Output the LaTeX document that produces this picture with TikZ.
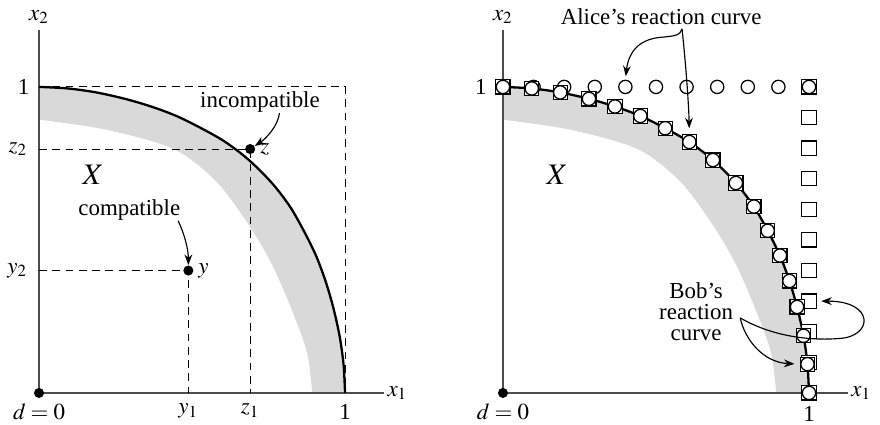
\documentclass[tikz,border=0pt]{standalone}
\usepackage{mathptmx}
\usepackage{fontspec}
\setmainfont{Liberation Serif}
\usepackage{tikz}
\usetikzlibrary{arrows.meta, positioning}
\definecolor{bandgray}{HTML}{D9D9D9}
\definecolor{axisgray}{HTML}{4D4D4D}
\tikzset{
  axis/.style={draw=axisgray, line width=0.65pt},
  guide/.style={draw=black, line width=0.45pt, dash pattern=on 3.4pt off 2.4pt},
  frontier/.style={draw=black, line width=1pt},
  band/.style={fill=bandgray, draw=none},
  dot/.style={circle, fill=black, inner sep=0pt, minimum size=4.4pt},
  omark/.style={circle, draw=black, fill=white, line width=0.55pt,
                inner sep=0pt, minimum size=5.8pt},
  smark/.style={rectangle, draw=black, fill=white, line width=0.5pt,
                inner sep=0pt, minimum size=6.2pt},
  arr/.style={-{Stealth[length=4.6pt,width=3.4pt]}, line width=0.5pt},
  lbl/.style={inner sep=1pt},
}

\begin{document}
\begin{tikzpicture}[x=4.7cm, y=4.7cm]
  \useasboundingbox (-0.1275,-0.1046) rectangle (2.748,1.284);

  % both panels: the set X, its frontier and the axes
  \foreach \ox [count=\p] in {0,1.516} {
    \begin{scope}[shift={(\ox,0)}]
      \fill[band] plot[smooth] coordinates {(0,1) (0.094,0.995) (0.187,0.982)
          (0.281,0.961) (0.366,0.936) (0.449,0.905) (0.530,0.865) (0.609,0.820)
          (0.686,0.761) (0.761,0.686) (0.820,0.609) (0.865,0.530) (0.905,0.449)
          (0.936,0.366) (0.961,0.281) (0.982,0.187) (0.995,0.094) (1,0)}
        -- plot[smooth] coordinates {(0.893,0) (0.876,0.131) (0.83,0.261)
          (0.765,0.412) (0.69,0.542) (0.58,0.69) (0.44,0.797) (0.22,0.86)
          (0,0.893)} -- cycle;
      \draw[axis] (0,1.186) -- (0,0) -- (1.126,0);
      \draw[frontier] plot[smooth] coordinates {(0,1) (0.094,0.995) (0.187,0.982)
          (0.281,0.961) (0.366,0.936) (0.449,0.905) (0.530,0.865) (0.609,0.820)
          (0.686,0.761) (0.761,0.686) (0.820,0.609) (0.865,0.530) (0.905,0.449)
          (0.936,0.366) (0.961,0.281) (0.982,0.187) (0.995,0.094) (1,0)};
      \node[dot] (orig\p) at (0,0) {};
      \node[lbl, above=1.6pt] (xtwo\p) at (0,1.186) {$x_2$};
      \node[lbl, right=0.5pt] (xone\p) at (1.126,0) {$x_1$};
      \node[lbl, below=3.6pt] (dzero\p) at (0,0) {$d = 0$};
      \node[font=\fontsize{13}{15}\selectfont] (setX\p) at (0.177,0.713) {$X$};
    \end{scope}
  }

  % left panel
  \draw[guide] (0,1) -| (1,0);
  \node[dot] (z) at (0.69,0.797) {};
  \node[dot] (y) at (0.488,0.40) {};
  \draw[guide] (z -| 0,0) -- (z.center) -- (z |- 0,0);
  \draw[guide] (y -| 0,0) -- (y.center) -- (y |- 0,0);
  \node[lbl, right=0.8pt of z] (zlab) {$z$};
  \node[lbl, right=0.8pt of y] (ylab) {$y$};
  \node[lbl, left=3pt] (ytop1) at (0,1) {1};
  \node[lbl, left=4pt] (ztwo) at (z -| 0,0) {$z_2$};
  \node[lbl, left=4pt] (ytwo) at (y -| 0,0) {$y_2$};
  \node[lbl, below=3.6pt] (yone) at (y |- 0,0) {$y_1$};
  \node[lbl, below=3.6pt] (zone) at (z |- 0,0) {$z_1$};
  \node[lbl, below=3.6pt] (xmax1) at (1,0) {1};

  \node[lbl] (incomp) at (0.722,0.950) {incompatible};
  \node[lbl] (compat) at (0.295,0.598) {compatible};
  \draw[arr] ([xshift=0.3cm,yshift=1pt]incomp.south)
    .. controls (0.78,0.87) and (0.74,0.83) .. (z);
  \draw[arr] ([xshift=0.75cm,yshift=1pt]compat.south)
    .. controls (0.475,0.52) and (0.488,0.47) .. (y.north);

  % right panel
  \begin{scope}[shift={(1.516,0)}]
    \node[lbl, left=6pt] (ytop2) at (0,1) {1};
    \node[inner sep=0pt, below=5.8pt] (xmax2) at (1,0) {1};

    \foreach \i in {0,...,10}
      \node[smark] (b\i) at (1,\i/10) {};
    \foreach \i in {0,...,10}
      \node[omark] (a\i) at (\i/10,1) {};
    \foreach \px/\py [count=\k from 0] in {0/1, 0.094/0.995, 0.187/0.982,
        0.281/0.961, 0.366/0.936, 0.449/0.905, 0.530/0.865, 0.609/0.820,
        0.686/0.761, 0.761/0.686, 0.820/0.609, 0.865/0.530, 0.905/0.449,
        0.936/0.366, 0.961/0.281, 0.982/0.187, 0.995/0.094, 1/0} {
      \node[smark] (s\k) at (\px,\py) {};
      \node[omark] (c\k) at (\px,\py) {};
    }

    \node[lbl] (alice) at (0.517,1.231) {Alice's reaction curve};
    \coordinate (abr) at ([xshift=0.32cm,yshift=-0.8pt]alice.south);
    \draw[arr, shorten >=1.5pt] (abr) .. controls (0.58,1.168) and (0.56,1.166)
      .. (0.515,1.162) .. controls (0.44,1.155) and (0.41,1.11) .. (a4.north);
    \draw[arr, shorten >=2.8pt] (abr) .. controls (0.595,1.1) and (0.607,0.95)
      .. (c7.north);

    \node[lbl, align=center] (bob) at (0.631,0.266)
      {Bob's\\[-2.9pt]reaction\\[-2.9pt]curve};
    \coordinate (bbr) at ([xshift=2pt,yshift=-2.8pt]bob.east);
    \draw[arr, shorten >=2pt] (bbr) .. controls (0.88,0.185) and (1.0,0.17)
      .. (1.10,0.178) .. controls (1.21,0.185) and (1.215,0.30) .. (b3.east);
    \draw[arr, shorten >=2.5pt] (bbr) .. controls (0.79,0.175) and (0.85,0.10)
      .. (c16.west);
  \end{scope}
\end{tikzpicture}
\end{document}
